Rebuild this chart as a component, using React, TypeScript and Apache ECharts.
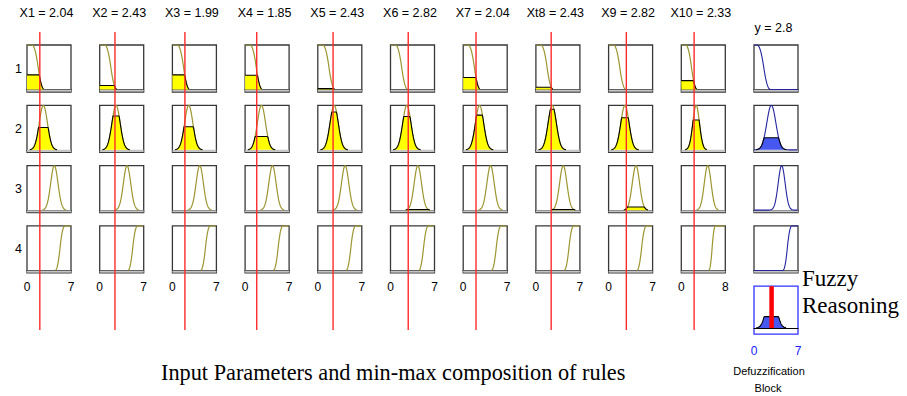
import React, { useEffect, useRef } from 'react';
import * as echarts from 'echarts';

// ---------- data ----------
const inputNames = ['X1', 'X2', 'X3', 'X4', 'X5', 'X6', 'X7', 'Xt8', 'X9', 'X10'];
const inputValues = [2.04, 2.43, 1.99, 1.85, 2.43, 2.82, 2.04, 2.43, 2.82, 2.33];
const inputRanges = [7, 7, 7, 7, 7, 7, 7, 7, 7, 8];
const ruleLabels = ['1', '2', '3', '4'];
// membership degree of each input in each rule (height of the yellow areas)
const ruleRow1 = [0.33, 0.09, 0.33, 0.32, 0.02, 0, 0.27, 0.05, 0, 0.2];
const ruleRow2 = [0.5, 0.76, 0.52, 0.3, 0.85, 0.75, 0.78, 0.91, 0.72, 0.67];
const ruleRow3 = [0, 0, 0, 0, 0, 0.015, 0, 0.015, 0.07, 0];
const ruleRow4 = [0, 0, 0, 0, 0, 0, 0, 0, 0, 0];
const outputStrengths = [0, 0.27, 0, 0];
const outputName = 'y';
const outputValue = 2.8;
const outputRange = 7;
// membership functions: [type, p1, p2]
type Mf = [string, number, number];
const inputMfs: Mf[] = [['z', 0.8, 2.75], ['gauss', 2.6, 0.65], ['gauss', 4.35, 0.58], ['s', 4.5, 6.0]];
const input10Mfs: Mf[] = [['z', 0.8, 2.9], ['gauss', 2.7, 0.6], ['gauss', 4.8, 0.62], ['s', 5.0, 6.2]];
const outputMfs: Mf[] = [['z', 0.5, 2.6], ['gauss', 2.76, 0.72], ['gauss', 4.4, 0.55], ['s', 4.6, 6.0]];

// ---------- layout / style ----------
const L0 = 27, CSTEP = 72.7, BW = 44;
const T0 = 45, RSTEP = 60.3, BH = 47;
const YMIN = -0.055;
const SANS = '"Liberation Sans", Arial, sans-serif';
const SERIF = '"Liberation Serif", "Times New Roman", serif';
const OLIVE = '#9c9630';
const BLUE_LINE = '#2424a0';
const BLUE_FILL = '#4658f0';

function zmf(t: number, a: number, b: number) {
  if (t <= a) return 1;
  if (t >= b) return 0;
  const m = (a + b) / 2;
  return t <= m ? 1 - 2 * ((t - a) / (b - a)) ** 2 : 2 * ((t - b) / (b - a)) ** 2;
}
function mfAt(mf: Mf, t: number) {
  const [type, a, b] = mf;
  if (type === 'gauss') return Math.exp(-((t - a) ** 2) / (2 * b * b));
  if (type === 'z') return zmf(t, a, b);
  return 1 - zmf(t, a, b);
}
function trim(pts: number[][]) {
  const eps = 0.004;
  let s = 0;
  while (s < pts.length - 1 && pts[s][1] < eps && pts[s + 1][1] < eps) s++;
  let e = pts.length - 1;
  while (e > 0 && pts[e][1] < eps && pts[e - 1][1] < eps) e--;
  return pts.slice(s, e + 1);
}
function curve(fn: (t: number) => number, range: number, doTrim: boolean) {
  const n = 240;
  const pts: number[][] = [];
  for (let i = 0; i <= n; i++) {
    const t = (range * i) / n;
    pts.push([t, fn(t)]);
  }
  return doTrim ? trim(pts) : pts;
}

function buildOption() {
  const grid: any[] = [];
  const xAxis: any[] = [];
  const yAxis: any[] = [];
  const series: any[] = [];
  const graphic: any[] = [];
  const rows = [ruleRow1, ruleRow2, ruleRow3, ruleRow4];

  const addGrid = (g: any, x: any, y: any) => {
    const i = grid.length;
    grid.push({ containLabel: false, outerBoundsMode: 'none', ...g });
    xAxis.push({ type: 'value', gridIndex: i, ...x });
    yAxis.push({ type: 'value', gridIndex: i, show: false, ...y });
    return i;
  };

  const boxGrid = (left: number, top: number, range: number, labels: any, border = '#383838', h = BH, ymin = YMIN) =>
    addGrid(
      { left, top, width: BW, height: h, show: true, borderColor: border, borderWidth: 1.3, backgroundColor: '#fff' },
      {
        min: 0, max: range, interval: range,
        axisLine: { show: true, onZero: true, lineStyle: { color: '#000', width: 1 } },
        axisTick: { show: false }, splitLine: { show: false },
        axisLabel: labels || { show: false },
      },
      { min: ymin, max: 1 }
    );

  // input columns
  for (let c = 0; c < inputNames.length; c++) {
    const left = L0 + CSTEP * c;
    const range = inputRanges[c];
    const mfs = range === 8 ? input10Mfs : inputMfs;
    for (let r = 0; r < 4; r++) {
      const top = T0 + RSTEP * r;
      const labels = r === 3
        ? { show: true, color: '#000', fontSize: 12, fontFamily: SANS, margin: 8, showMinLabel: true, showMaxLabel: true }
        : null;
      const gi = boxGrid(left, top, range, labels);
      series.push({
        type: 'line', xAxisIndex: gi, yAxisIndex: gi, silent: true, symbol: 'none', z: 3,
        data: curve((t) => mfAt(mfs[r], t), range, true),
        lineStyle: { color: OLIVE, width: 1.2 },
        markArea: { silent: true, itemStyle: { color: '#c4c4c4' }, data: [[{ yAxis: YMIN * 0.82 }, { yAxis: 0 }]] },
      });
      const mu = rows[r][c];
      if (mu > 0) {
        series.push({
          type: 'line', xAxisIndex: gi, yAxisIndex: gi, silent: true, symbol: 'none', z: 4,
          data: curve((t) => Math.min(mfAt(mfs[r], t), mu), range, true),
          lineStyle: { color: '#000', width: 1.1 },
          areaStyle: { color: '#ffff00', opacity: 1 },
        });
      }
    }
    // red line of the input value
    const gr = addGrid({ left, top: 32, width: BW, height: 298, show: false }, { min: 0, max: range, show: false }, { min: 0, max: 1 });
    series.push({
      type: 'line', xAxisIndex: gr, yAxisIndex: gr, silent: true, symbol: 'none', z: 20,
      data: [[inputValues[c], 0], [inputValues[c], 1]],
      lineStyle: { color: '#ff2a2a', width: 1.4 },
    });
    graphic.push({
      type: 'text', silent: true, x: left + BW / 2 - 2.5, y: 13,
      style: { text: `${inputNames[c]} = ${inputValues[c].toFixed(2)}`, font: `12.5px ${SANS}`, fill: '#000', align: 'center', verticalAlign: 'middle' },
    });
  }

  // output column
  const oLeft = L0 + CSTEP * 10;
  for (let r = 0; r < 4; r++) {
    const top = T0 + RSTEP * r;
    const gi = boxGrid(oLeft, top, outputRange, null);
    series.push({
      type: 'line', xAxisIndex: gi, yAxisIndex: gi, silent: true, symbol: 'none', z: 3,
      data: curve((t) => mfAt(outputMfs[r], t), outputRange, false),
      lineStyle: { color: BLUE_LINE, width: 1.1 },
      markArea: { silent: true, itemStyle: { color: '#c4c4c4' }, data: [[{ yAxis: YMIN * 0.82 }, { yAxis: 0 }]] },
    });
    const w = outputStrengths[r];
    if (w > 0) {
      series.push({
        type: 'line', xAxisIndex: gi, yAxisIndex: gi, silent: true, symbol: 'none', z: 4,
        data: curve((t) => Math.min(mfAt(outputMfs[r], t), w), outputRange, true),
        lineStyle: { color: '#000', width: 1.1 },
        areaStyle: { color: BLUE_FILL, opacity: 1 },
      });
    }
    graphic.push({
      type: 'text', silent: true, x: 18.5, y: top + BH / 2,
      style: { text: ruleLabels[r], font: `12.5px ${SANS}`, fill: '#000', align: 'center', verticalAlign: 'middle' },
    });
  }
  graphic.push({
    type: 'text', silent: true, x: oLeft + BW / 2 - 2.5, y: 28,
    style: { text: `${outputName} = ${outputValue}`, font: `12.5px ${SANS}`, fill: '#000', align: 'center', verticalAlign: 'middle' },
  });

  // defuzzification block
  const dTop = T0 + RSTEP * 4;
  const dMin = -0.15;
  const gd = boxGrid(oLeft, dTop, outputRange,
    { show: true, color: '#2020ff', fontSize: 12, fontFamily: SANS, margin: 11, showMinLabel: true, showMaxLabel: true },
    '#3030ff', 48, dMin);
  series.push({
    type: 'line', xAxisIndex: gd, yAxisIndex: gd, silent: true, symbol: 'none', z: 4,
    data: curve((t) => Math.max(...outputMfs.map((mf, i) => Math.min(mfAt(mf, t), outputStrengths[i]))), outputRange, true),
    lineStyle: { color: '#000', width: 1.1 },
    areaStyle: { color: BLUE_FILL, opacity: 1 },
  });
  series.push({
    type: 'line', xAxisIndex: gd, yAxisIndex: gd, silent: true, symbol: 'none', z: 20,
    data: [[outputValue, 0], [outputValue, 1]],
    lineStyle: { color: '#ff0000', width: 4.5 },
  });

  graphic.push(
    { type: 'text', silent: true, x: 769, y: 371, style: { text: 'Defuzzification', font: `11px ${SANS}`, fill: '#000', align: 'center', verticalAlign: 'middle' } },
    { type: 'text', silent: true, x: 768, y: 388, style: { text: 'Block', font: `11px ${SANS}`, fill: '#000', align: 'center', verticalAlign: 'middle' } },
    { type: 'text', silent: true, x: 802, y: 266.5, style: { text: 'Fuzzy', font: `23px ${SERIF}`, fill: '#000', align: 'left', verticalAlign: 'alphabetic' } },
    { type: 'text', silent: true, x: 802, y: 294, style: { text: 'Reasoning', font: `23px ${SERIF}`, fill: '#000', align: 'left', verticalAlign: 'alphabetic' } },
    { type: 'text', silent: true, x: 161, y: 361, style: { text: 'Input Parameters and min-max composition of rules', font: `22.3px ${SERIF}`, fill: '#000', align: 'left', verticalAlign: 'alphabetic' } },
  );

  return { animation: false, backgroundColor: '#fff', grid, xAxis, yAxis, series, graphic };
}

export default function App() {
  const ref = useRef<HTMLDivElement>(null);
  useEffect(() => {
    if (!ref.current) return;
    const chart = echarts.init(ref.current, undefined, { renderer: 'svg' });
    chart.setOption(buildOption() as any);
    return () => chart.dispose();
  }, []);
  return <div ref={ref} style={{ position: 'absolute', left: 0, top: 0, width: 907, height: 396, background: '#fff' }} />;
}
